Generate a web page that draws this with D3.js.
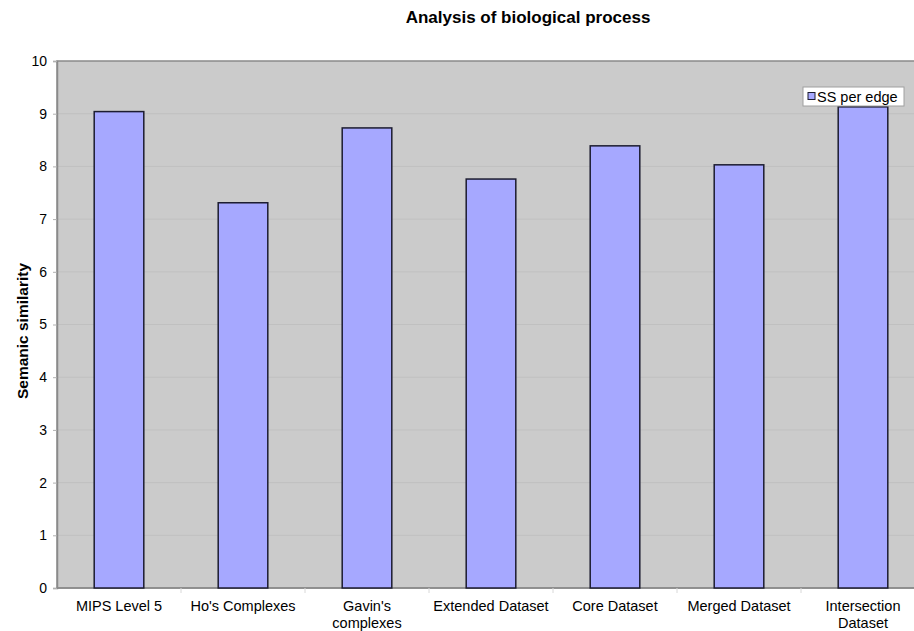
<!DOCTYPE html>
<html>
<head>
<meta charset="utf-8">
<script src="https://cdn.jsdelivr.net/npm/d3@7"></script>
<style>
  html, body { margin: 0; padding: 0; background: #fff; }
  svg { display: block; font-family: "Liberation Sans", Arial, sans-serif; }
</style>
</head>
<body>
<svg id="chart" width="914" height="631"></svg>
<script>
// Semantic similarity per edge for each complex dataset
const categories = [
  ["MIPS Level 5"],
  ["Ho's Complexes"],
  ["Gavin's", "complexes"],
  ["Extended Dataset"],
  ["Core Dataset"],
  ["Merged Dataset"],
  ["Intersection", "Dataset"]
];
const ssPerEdge = [9.04, 7.31, 8.73, 7.76, 8.39, 8.03, 9.13];
const yTicks = [0, 1, 2, 3, 4, 5, 6, 7, 8, 9, 10];
const seriesName = "SS per edge";

const svg = d3.select("#chart");
const plot = { left: 57, top: 61, right: 925, bottom: 588 };

const x = d3.scaleBand()
  .domain(categories.map((c, i) => i))
  .range([plot.left, plot.right])
  .paddingInner(0.6)
  .paddingOuter(0.3);
const xOuter = d3.scaleBand()
  .domain(categories.map((c, i) => i))
  .range([plot.left, plot.right]);

const y = d3.scaleLinear().domain([0, 10]).range([plot.bottom, plot.top]);

// Title
svg.append("text")
  .attr("x", 528).attr("y", 23)
  .attr("text-anchor", "middle")
  .attr("font-size", 17).attr("font-weight", "bold")
  .text("Analysis of biological process");

// Plot background
svg.append("rect")
  .attr("x", plot.left).attr("y", plot.top)
  .attr("width", plot.right - plot.left).attr("height", plot.bottom - plot.top)
  .attr("fill", "#cbcbcb")
  .attr("stroke", "#8a8a8a").attr("stroke-width", 1.5);

// Gridlines
svg.append("g")
  .selectAll("line")
  .data(yTicks.filter(t => t > 0 && t < 10))
  .join("line")
  .attr("x1", plot.left).attr("x2", plot.right)
  .attr("y1", d => y(d)).attr("y2", d => y(d))
  .attr("stroke", "#c0c0c0").attr("stroke-width", 1);

// Y axis
const yAxis = svg.append("g")
  .attr("transform", `translate(${plot.left},0)`)
  .call(d3.axisLeft(y).tickValues(yTicks).tickSize(4).tickPadding(6));
yAxis.select(".domain").attr("stroke", "#8a8a8a").attr("stroke-width", 1.5);
yAxis.selectAll(".tick line").attr("stroke", "#b0b0b0");
yAxis.selectAll(".tick text").attr("font-size", 14).attr("fill", "#000")
  .attr("font-family", "'Liberation Sans', Arial, sans-serif");

// X axis with tick marks between categories
const xAxisG = svg.append("g");
xAxisG.append("line")
  .attr("x1", plot.left).attr("x2", plot.right)
  .attr("y1", plot.bottom).attr("y2", plot.bottom)
  .attr("stroke", "#8a8a8a").attr("stroke-width", 1.5);
xAxisG.selectAll("line.tk")
  .data(categories.map((c, i) => i))
  .join("line").attr("class", "tk")
  .attr("x1", d => xOuter(d) + xOuter.bandwidth())
  .attr("x2", d => xOuter(d) + xOuter.bandwidth())
  .attr("y1", plot.bottom).attr("y2", plot.bottom + 5)
  .attr("stroke", "#d8d8d8");

// Category labels
const labels = svg.append("g")
  .selectAll("text")
  .data(categories)
  .join("text")
  .attr("x", (d, i) => xOuter(i) + xOuter.bandwidth() / 2)
  .attr("y", 611)
  .attr("text-anchor", "middle")
  .attr("font-size", 14.5);
labels.selectAll("tspan")
  .data(d => d)
  .join("tspan")
  .attr("x", function () { return this.parentNode.getAttribute("x"); })
  .attr("dy", (d, i) => i === 0 ? 0 : 17)
  .text(d => d);

// Bars
svg.append("g")
  .selectAll("rect")
  .data(ssPerEdge)
  .join("rect")
  .attr("x", (d, i) => x(i))
  .attr("y", d => y(d))
  .attr("width", x.bandwidth())
  .attr("height", d => y(0) - y(d))
  .attr("fill", "#a6a8ff")
  .attr("stroke", "#1c1c30").attr("stroke-width", 1.5);

// Y axis title
svg.append("text")
  .attr("transform", "translate(28,331) rotate(-90)")
  .attr("text-anchor", "middle")
  .attr("font-size", 15.5).attr("font-weight", "bold")
  .text("Semanic similarity");

// Legend
const legend = svg.append("g").attr("transform", "translate(803,87)");
legend.append("rect")
  .attr("width", 101).attr("height", 19)
  .attr("fill", "#fff").attr("stroke", "#a0a0a0").attr("stroke-width", 1);
legend.append("rect")
  .attr("x", 5).attr("y", 5.5).attr("width", 7).attr("height", 7)
  .attr("fill", "#a6a8ff").attr("stroke", "#1c1c30").attr("stroke-width", 1);
legend.append("text")
  .attr("x", 14).attr("y", 15)
  .attr("font-size", 14.5)
  .text(seriesName);
</script>
</body>
</html>
